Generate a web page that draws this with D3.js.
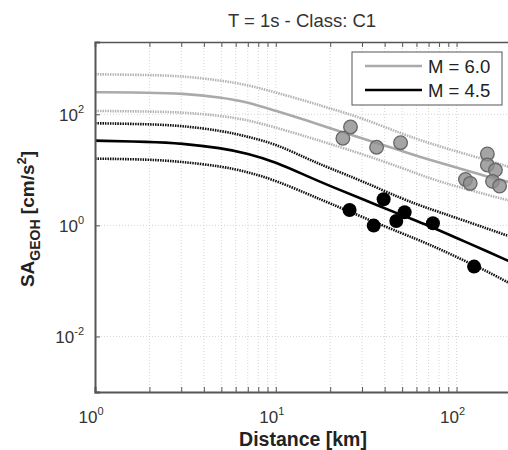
<!DOCTYPE html>
<html lang="en">
<head>
<meta charset="utf-8">
<title>T = 1s - Class: C1</title>
<script src="https://d3js.org/d3.v7.min.js"></script>
<style>
  body{margin:0;background:#fff;font-family:"Liberation Sans",Arial,sans-serif;}
  #chart{width:508px;height:450px;overflow:hidden;}
</style>
</head>
<body>
<div id="chart"></div>
<script>

// distances (km) where the model curves were read
var distances = [1, 2, 3, 5, 7, 10, 15, 20, 30, 50, 70, 100, 150, 200]

// M = 6.0 curves (grey)
var m60Median = [249, 245, 238, 202, 166, 115, 77, 56, 36.8, 21.8, 15.3, 11.0, 7.4, 5.9]
var m60Upper  = [525, 510, 489, 406, 337, 247, 170, 127, 85.7, 44.2, 30.4, 21.4, 14.7, 11.0]
var m60Lower  = [115, 112, 109, 94, 78.9, 57.8, 39.0, 29.2, 19.3, 10.8, 7.1, 5.0, 3.5, 2.75]

// M = 4.5 curves (black)
var m45Median = [33.5, 32.0, 30.0, 24.7, 19.7, 13.8, 7.6, 5.1, 2.99, 1.51, 0.99, 0.593, 0.332, 0.219]
var m45Upper  = [68.9, 66.4, 62.4, 50.7, 39.5, 29.2, 15.7, 10.6, 6.3, 2.99, 2.01, 1.36, 0.86, 0.62]
var m45Lower  = [15.9, 15.4, 14.0, 11.6, 9.15, 6.43, 3.67, 2.48, 1.42, 0.715, 0.462, 0.27, 0.145, 0.088]

// recorded data
var greyDist = [25.9, 23.5, 36.1, 49.0, 112, 119, 148, 148, 164, 158, 173]
var greySA   = [59, 37, 25.5, 30.8, 6.7, 5.7, 19.3, 12.2, 9.9, 6.2, 5.1]
var blackDist = [25.6, 39.5, 34.8, 46.4, 51.6, 74.0, 125]
var blackSA   = [1.89, 2.95, 0.99, 1.20, 1.72, 1.09, 0.181]

var xTicks = [1, 10, 100]
var yTicks = [0.01, 1, 100]
var legendLabels = ["M = 6.0", "M = 4.5"]

var margin = {top: 42, left: 95}
var w = 416, h = 350

var svg = d3.select("#chart").append("svg")
    .attr("width", 508).attr("height", 450)

var g = svg.append("g")
    .attr("transform", "translate(" + margin.left + "," + margin.top + ")")

var x = d3.scaleLog().domain([1, 200]).range([0, w])
var y = d3.scaleLog().domain([0.001, 2000]).range([h, 0])

// minor x grid at every 1..9 x decade
var xMinor = []
;[1, 10, 100].forEach(function(dec){
  for (var k = 1; k < 10; k++) { if (dec * k <= 200) xMinor.push(dec * k) }
})

g.selectAll(".xgrid").data(xMinor.filter(function(d){ return d > 1 }))
  .enter().append("line")
  .attr("x1", d => x(d)).attr("x2", d => x(d))
  .attr("y1", 0).attr("y2", h)
  .attr("stroke", "#cccccc").attr("stroke-width", 0.8)
  .attr("stroke-dasharray", "1,2")

g.selectAll(".ygrid").data(yTicks)
  .enter().append("line")
  .attr("x1", 0).attr("x2", w)
  .attr("y1", d => y(d)).attr("y2", d => y(d))
  .attr("stroke", "#cccccc").attr("stroke-width", 0.8)
  .attr("stroke-dasharray", "1,2")

// curves
var line = d3.line()
    .x(function(d){ return x(d[0]) })
    .y(function(d){ return y(d[1]) })
    .curve(d3.curveBasis)

function pairs(vals){ return distances.map(function(d, i){ return [d, vals[i]] }) }

var curves = [
  {v: m60Upper, c: "#b4b4b4", dash: "1.5,1"},
  {v: m60Lower, c: "#b4b4b4", dash: "1.5,1"},
  {v: m60Median, c: "#aaaaaa", dash: null},
  {v: m45Upper, c: "#111", dash: "1.5,1"},
  {v: m45Lower, c: "#111", dash: "1.5,1"},
  {v: m45Median, c: "#000", dash: null}
]

g.selectAll(".curve").data(curves).enter().append("path")
  .attr("d", function(d){ return line(pairs(d.v)) })
  .attr("fill", "none")
  .attr("stroke", d => d.c)
  .attr("stroke-width", 2.6)
  .attr("stroke-dasharray", d => d.dash)

// grey points
g.selectAll(".gpt").data(greyDist).enter().append("circle")
  .attr("cx", d => x(d))
  .attr("cy", (d, i) => y(greySA[i]))
  .attr("r", 6.8)
  .attr("fill", "#8f8f8f").attr("fill-opacity", 0.8)
  .attr("stroke", "#666").attr("stroke-width", 1.3)

// black points
g.selectAll(".bpt").data(blackDist).enter().append("circle")
  .attr("cx", d => x(d))
  .attr("cy", (d, i) => y(blackSA[i]))
  .attr("r", 7)
  .attr("fill", "#000")

// axes: ticks pointing inward
var axisColor = "#555"
var bottomAxis = g.append("g").attr("transform", "translate(0," + h + ")")
  .call(d3.axisBottom(x).tickValues(xMinor).tickSize(-5).tickFormat(""))
var topAxis = g.append("g")
  .call(d3.axisTop(x).tickValues(xMinor).tickSize(-5).tickFormat(""))
var leftAxis = g.append("g")
  .call(d3.axisLeft(y).tickValues(yTicks).tickSize(-5).tickFormat(""))
;[bottomAxis, topAxis, leftAxis].forEach(function(a){
  a.select(".domain").attr("stroke", axisColor).attr("stroke-width", 1.6)
  a.selectAll(".tick line").attr("stroke", axisColor)
})
bottomAxis.select(".domain").attr("stroke-width", 2)
leftAxis.select(".domain").attr("stroke-width", 2)

// tick labels with superscripts
function powLabel(sel, v){
  sel.append("tspan").text("10")
  sel.append("tspan").attr("dy", -8).attr("font-size", "11px").text(Math.round(Math.log10(v)))
}

xTicks.forEach(function(v){
  var t = g.append("text")
    .attr("x", x(v) - 4).attr("y", h + 31)
    .attr("text-anchor", "middle")
    .attr("font-size", "17px").attr("fill", "#333")
  powLabel(t, v)
})

yTicks.forEach(function(v){
  var t = g.append("text")
    .attr("x", -11).attr("y", y(v) + 7)
    .attr("text-anchor", "end")
    .attr("font-size", "17px").attr("fill", "#333")
  powLabel(t, v)
})

// title and axis labels
svg.append("text")
  .attr("x", 302).attr("y", 27)
  .attr("text-anchor", "middle")
  .attr("font-size", "18.5px").attr("fill", "#333")
  .text("T = 1s - Class: C1")

svg.append("text")
  .attr("x", 303).attr("y", 446)
  .attr("text-anchor", "middle")
  .attr("font-size", "19.5px").attr("font-weight", "bold").attr("fill", "#222")
  .text("Distance [km]")

var yl = svg.append("text")
  .attr("transform", "translate(34,219) rotate(-90)")
  .attr("text-anchor", "middle")
  .attr("font-size", "19px").attr("font-weight", "bold").attr("fill", "#222")
yl.append("tspan").text("SA")
yl.append("tspan").attr("dy", 6).attr("font-size", "14px").text("GEOH")
yl.append("tspan").attr("dy", -6).text(" [cm/s")
yl.append("tspan").attr("dy", -8).attr("font-size", "13px").text("2")
yl.append("tspan").attr("dy", 8).text("]")

// legend
var lg = svg.append("g").attr("transform", "translate(352,52)")
lg.append("rect")
  .attr("width", 150).attr("height", 53)
  .attr("fill", "#fff").attr("stroke", "#555").attr("stroke-width", 1)
var legendColors = ["#aaaaaa", "#000"]
legendLabels.forEach(function(lab, i){
  var yy = 14 + i * 24
  lg.append("line")
    .attr("x1", 13).attr("x2", 70).attr("y1", yy).attr("y2", yy)
    .attr("stroke", legendColors[i]).attr("stroke-width", 2.6)
  lg.append("text")
    .attr("x", 76).attr("y", yy + 7)
    .attr("font-size", "18.5px").attr("fill", "#222")
    .text(lab)
})

</script>
</body>
</html>
